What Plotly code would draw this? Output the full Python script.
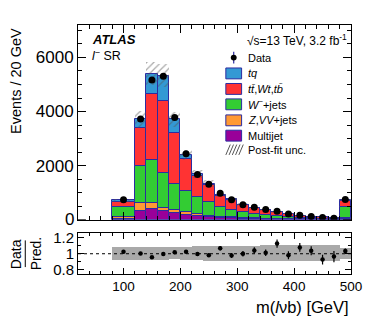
import plotly.graph_objects as go
import numpy as np

# ---------------- data ----------------
bin_edges = [80, 120, 140, 160, 180, 200, 220, 240, 260, 280, 300, 320, 340, 360,
             380, 400, 420, 440, 460, 480, 500]

data_vals = [732, 3720, 5170, 5305, 3780, 2440, 1672, 1306, 977, 732, 550, 460,
             380, 315, 210, 165, 115, 78, 55, 750]
ratio_err = [0.012, 0.012, 0.012, 0.012, 0.015, 0.018, 0.02, 0.022, 0.028, 0.03,
             0.035, 0.038, 0.04, 0.05, 0.05, 0.055, 0.055, 0.06, 0.07, 0.03]

multijet = [40, 330, 390, 305, 230, 170, 130, 95, 70, 55, 40, 32, 25, 20, 15, 12, 9, 7, 5, 40]
zvv_jets = [70, 270, 243, 123, 125, 97, 70, 55, 40, 30, 25, 18, 15, 12, 10, 8, 6, 5, 4, 30]
w_jets = [340, 1375, 1577, 1302, 950, 783, 630, 490, 360, 285, 205, 160, 130, 98, 70, 52,
          40, 28, 18, 380]
ttbar_wt_tb = [204, 1410, 2427, 2646, 1901, 1210, 789, 644, 411, 350, 258, 214, 191, 139,
               110, 74, 51, 40, 27, 250]
tq = [60, 320, 760, 950, 500, 120, 60, 45, 35, 28, 22, 18, 14, 11, 9, 7, 5, 4, 3, 25]
rel_unc = [0.08, 0.08, 0.08, 0.08, 0.075, 0.08, 0.085, 0.09, 0.09, 0.09, 0.09, 0.095,
           0.1, 0.1, 0.1, 0.1, 0.1, 0.1, 0.1, 0.07]

x_ticks = [100, 200, 300, 400, 500]
y_ticks = [2000, 4000, 6000]
y_zero_label = "0"
r_ticks = [0.8, 1.0, 1.2]
r_ticktext = ["0.8", "1", "1.2"]

# ---------------- derived ----------------
edges = np.array(bin_edges, dtype=float)
centers = 0.5 * (edges[:-1] + edges[1:])
widths = edges[1:] - edges[:-1]

components = [
    ("Multijet", multijet, "#990099"),
    ("Z,VV+jets", zvv_jets, "#ff9933"),
    ("W-+jets", w_jets, "#33cc33"),
    ("tt,Wt,tb", ttbar_wt_tb, "#ff3333"),
    ("tq", tq, "#3399d4"),
]

FONT = "Liberation Sans, Arial, Helvetica, sans-serif"
EDGE = "#2c2ca0"

fig = go.Figure()
base = np.zeros(len(centers))
for name, vals, col in components:
    v = np.array(vals, dtype=float)
    fig.add_trace(go.Bar(x=centers, y=v, base=base, width=widths, name=name,
                         marker=dict(color=col, line=dict(color=EDGE, width=1)),
                         showlegend=False, xaxis="x", yaxis="y"))
    base = base + v
total = base.copy()
unc = np.array(rel_unc) * total

# hatched post-fit uncertainty
fig.add_trace(go.Bar(x=centers, y=2 * unc, base=total - unc, width=widths,
                     marker=dict(color="rgba(0,0,0,0)", line=dict(width=0),
                                 pattern=dict(shape="/", fgcolor="#555555",
                                              bgcolor="rgba(0,0,0,0)", size=5,
                                              solidity=0.25, fillmode="overlay")),
                     showlegend=False, xaxis="x", yaxis="y"))

data = np.array(data_vals, dtype=float)
ratio = data / total
r_err = np.array(ratio_err)
fig.add_trace(go.Scatter(x=centers, y=data, mode="markers",
                         marker=dict(color="black", size=7),
                         error_y=dict(type="data", array=r_err * total, color="black",
                                      thickness=1.2, width=0),
                         showlegend=False, xaxis="x", yaxis="y"))

# ratio panel
fig.add_trace(go.Bar(x=centers, y=2 * np.array(rel_unc), base=1 - np.array(rel_unc),
                     width=widths, marker=dict(color="#a9a9a9", line=dict(width=0)),
                     showlegend=False, xaxis="x2", yaxis="y2"))
fig.add_trace(go.Scatter(x=centers, y=ratio, mode="markers",
                         marker=dict(color="black", size=4.5),
                         error_y=dict(type="data", array=r_err, color="black",
                                      thickness=1.2, width=0),
                         showlegend=False, xaxis="x2", yaxis="y2"))

# ---------------- layout ----------------
OFF = 8                      # default page body margin
W, H = 374 - OFF, 316 - OFF
ML = 78 - OFF
MT = 22 - OFF
MR = W - (355 - OFF)
MB = H - (274 - OFF)
PW, PH = W - ML - MR, H - MT - MB


def px(xp):
    return (xp - OFF - ML) / PW


def py(yp):
    return (H - MB - (yp - OFF)) / PH


main_lo = py(219)
ratio_hi = py(233)

axis_common = dict(showline=True, linecolor="black", linewidth=1, mirror="allticks",
                   ticks="inside", tickcolor="black", showgrid=False, zeroline=False)

fig.update_layout(
    width=W, height=H, margin=dict(l=ML, r=MR, t=MT, b=MB),
    paper_bgcolor="white", plot_bgcolor="white", barmode="overlay", bargap=0,
    font=dict(family=FONT, color="black"), showlegend=False,
    xaxis=dict(axis_common, domain=[0, 1], anchor="y", range=[20, 500],
               tickvals=x_ticks, showticklabels=False, ticklen=8,
               minor=dict(ticks="inside", dtick=20, tick0=0, ticklen=4, tickcolor="black")),
    yaxis=dict(axis_common, domain=[main_lo, 1], anchor="x", range=[0, 7200],
               tickvals=y_ticks, ticklen=8, tickfont=dict(size=17),
               minor=dict(ticks="inside", dtick=500, tick0=0, ticklen=4, tickcolor="black")),
    xaxis2=dict(axis_common, domain=[0, 1], anchor="y2", range=[20, 500], matches="x",
                tickvals=x_ticks, ticklen=6, tickfont=dict(size=13.5),
                minor=dict(ticks="inside", dtick=20, tick0=0, ticklen=3, tickcolor="black")),
    yaxis2=dict(axis_common, domain=[0, ratio_hi], anchor="x2", range=[0.75, 1.25],
                tickvals=r_ticks, ticktext=r_ticktext, ticklen=6, tickfont=dict(size=15),
                minor=dict(ticks="inside", dtick=0.1, tick0=0, ticklen=3, tickcolor="black")),
)

shapes = [
    dict(type="line", xref="x2 domain", yref="y2", x0=0, x1=1, y0=1, y1=1,
         line=dict(color="black", width=1, dash="dot")),
    # major tick at 0 on both sides of the main panel
    dict(type="line", xref="x domain", yref="y", x0=0, x1=0.029, y0=0, y1=0,
         line=dict(color="black", width=1)),
    dict(type="line", xref="x domain", yref="y", x0=0.971, x1=1, y0=0, y1=0,
         line=dict(color="black", width=1)),
    # fraction bar for Data / Pred.
    dict(type="line", xref="paper", yref="paper", x0=px(24.5), x1=px(24.5),
         y0=py(240), y1=py(267), line=dict(color="black", width=1)),
]

annotations = [
    dict(text="Events / 20 GeV", x=px(15), y=py(23), yanchor="top", textangle=-90,
         font=dict(size=14.5)),
    dict(text=y_zero_label, xref="x domain", yref="y", x=0, y=0, xanchor="right",
         xshift=-2, font=dict(size=17)),
    dict(text="Data", x=px(14.5), y=py(253.5), textangle=-90, font=dict(size=14)),
    dict(text="Pred.", x=px(35), y=py(253.5), textangle=-90, font=dict(size=14)),
    dict(text="m(<i>l</i>νb) [GeV]", x=px(355), y=py(307), xanchor="right",
         font=dict(size=16.5)),
    dict(text="<b><i>ATLAS</i></b>", x=px(90), y=py(37), xanchor="left", font=dict(size=13)),
    dict(text="<i>l</i><sup>−</sup> SR", x=px(90), y=py(52.5), xanchor="left",
         font=dict(size=12.5)),
    dict(text="√s=13 TeV, 3.2 fb<sup>-1</sup>", x=px(353), y=py(37), xanchor="right",
         font=dict(size=12)),
]

# manual legend
leg_x0, leg_x1, txt_x = 228, 244, 248
leg_items = [
    (71, "#3399d4", "<i>tq</i>"),
    (86.7, "#ff3333", "<i>t</i><i>t\u0304</i>,<i>Wt</i>,<i>tb\u0304</i>"),
    (102.3, "#33cc33", "<i>W</i><sup>−</sup>+jets"),
    (118.5, "#ff9933", "<i>Z</i>,<i>VV</i>+jets"),
    (134, "#990099", "Multijet"),
]
for yc, col, lab in leg_items:
    shapes.append(dict(type="rect", xref="paper", yref="paper", x0=px(leg_x0), x1=px(leg_x1),
                       y0=py(yc + 5.5), y1=py(yc - 5.5), fillcolor=col,
                       line=dict(color=EDGE, width=1)))
    annotations.append(dict(text=lab, x=px(txt_x), y=py(yc), xanchor="left",
                            font=dict(size=11)))
# data legend entry
shapes.append(dict(type="line", xref="paper", yref="paper", x0=px(236), x1=px(236),
                   y0=py(49), y1=py(61), line=dict(color=EDGE, width=1.2)))
shapes.append(dict(type="circle", xref="paper", yref="paper", x0=px(233), x1=px(239),
                   y0=py(58), y1=py(52), fillcolor="black", line=dict(color="black", width=0)))
annotations.append(dict(text="Data", x=px(txt_x), y=py(55), xanchor="left", font=dict(size=11)))
# post-fit unc. legend entry (hatch strokes)
for i in range(5):
    xs = 228 + i * 3.3
    shapes.append(dict(type="line", xref="paper", yref="paper", x0=px(xs), x1=px(xs + 4.5),
                       y0=py(153.5), y1=py(143), line=dict(color="#555555", width=1)))
annotations.append(dict(text="Post-fit unc.", x=px(txt_x), y=py(148.5), xanchor="left",
                        font=dict(size=11)))

for a in annotations:
    a.setdefault("xref", "paper")
    a.setdefault("yref", "paper")
    a.setdefault("xanchor", "center")
    a.setdefault("yanchor", "middle")
    a["showarrow"] = False

fig.update_layout(shapes=shapes, annotations=annotations)
fig.write_html("out.html")
